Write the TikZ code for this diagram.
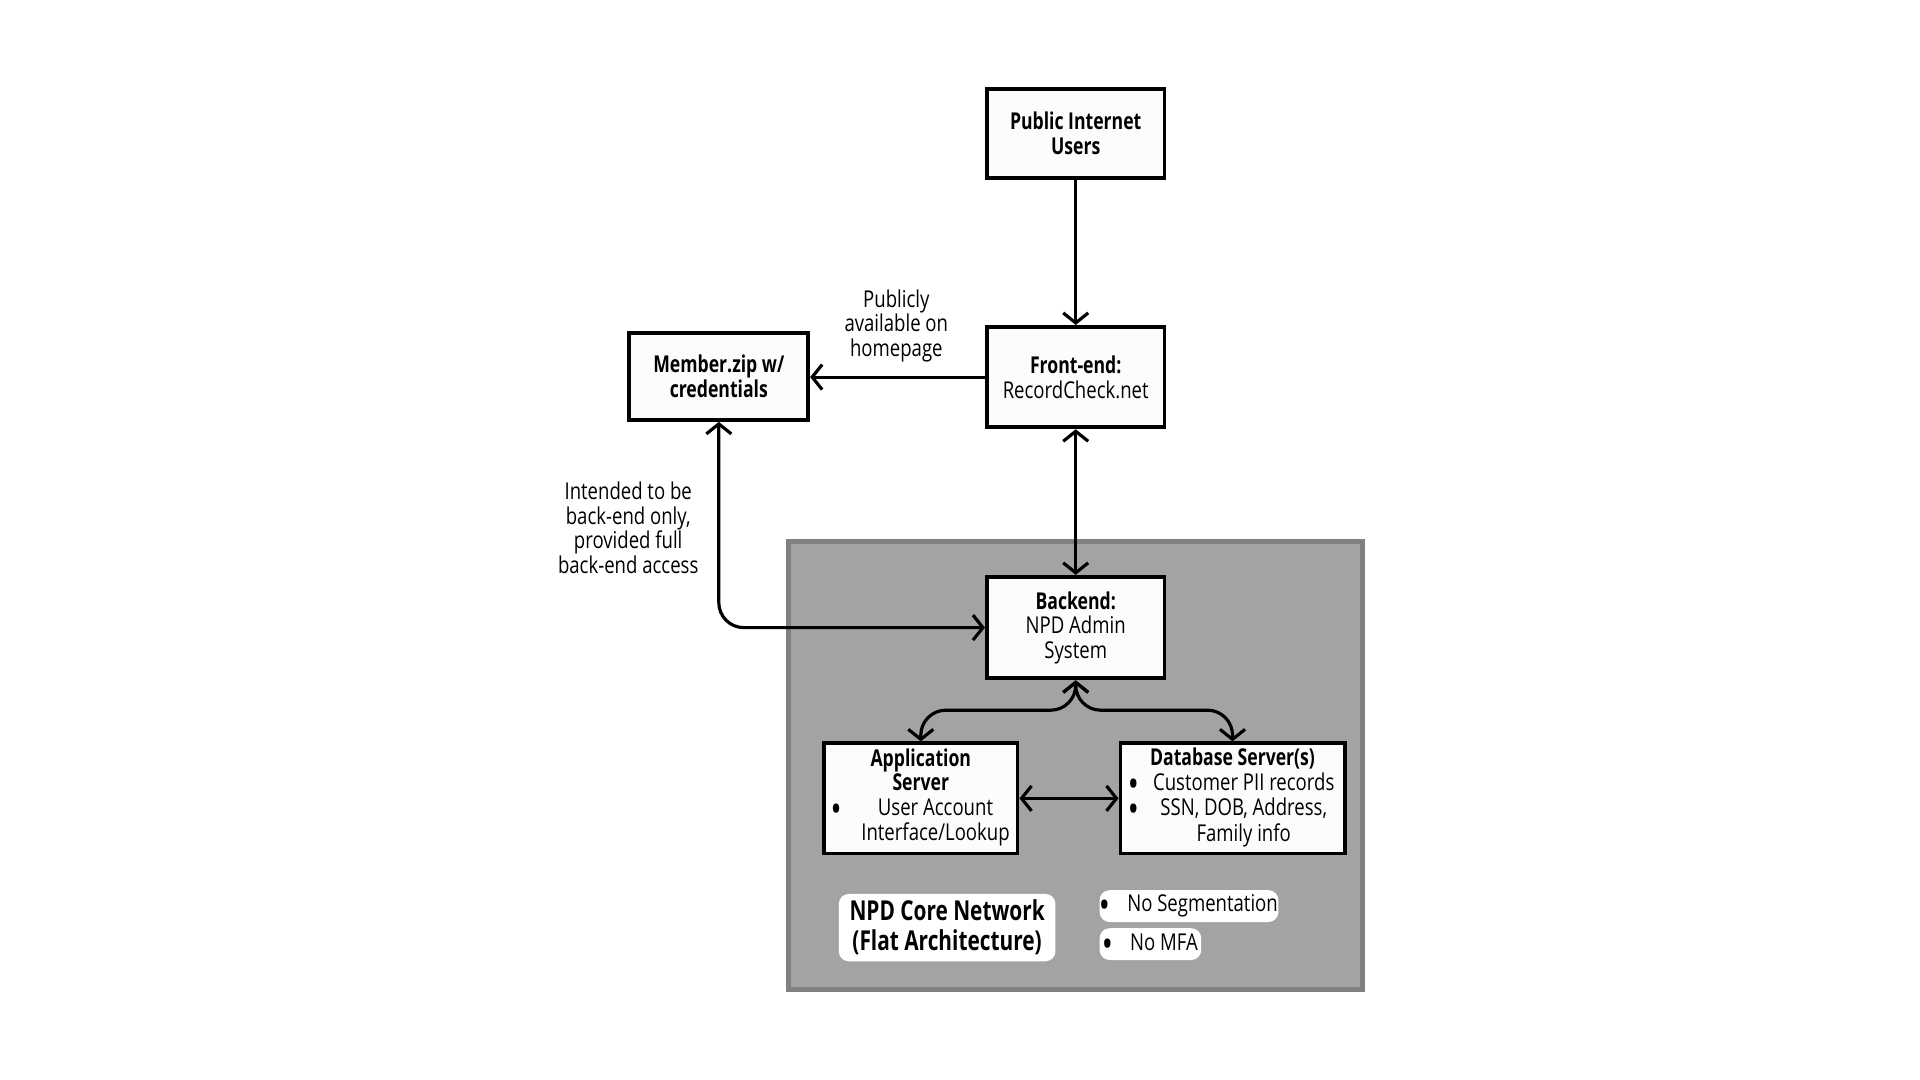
\documentclass[tikz,border=0pt]{standalone}
\usepackage{fontspec}
\setmainfont{Open Sans}[FakeStretch=0.8,BoldFeatures={FakeStretch=0.76}]
\usepackage{tikz}
\usetikzlibrary{positioning,
				arrows.meta}
\definecolor{netgray}{HTML}{A3A3A3}
\definecolor{netedge}{HTML}{808080}
\definecolor{boxfill}{HTML}{FCFCFA}
\newcommand{\blt}{\raisebox{-1.1pt}{\fontsize{8.5}{7}\selectfont\bfseries\textbullet}}

\begin{document}
\begin{tikzpicture}[line width=0.9pt,
  font=\fontsize{6.6}{7}\selectfont,
  sysbox/.style={rectangle,draw,line width=1.1pt,fill=boxfill,align=center,inner sep=0pt},
  notebox/.style={rectangle,fill=white,rounded corners=0.1cm,inner sep=0pt},
  tip/.style={-{Straight Barb[length=1mm,width=2.5mm]}},
  tips/.style={{Straight Barb[length=1mm,width=2.5mm]}-{Straight Barb[length=1mm,width=2.5mm]}}]
  \useasboundingbox[fill=white] (0,0) rectangle (19.2,-10.8);
  % core network area
  \draw[netedge,fill=netgray,line width=1.4pt] (7.886,-5.412) rectangle (13.629,-9.894);
  \node[sysbox,minimum width=1.776cm,minimum height=0.882cm] (users) at (10.757,-1.335) {\textbf{Public Internet}\\\textbf{Users}};
  \node[sysbox,minimum width=1.776cm,minimum height=1.004cm] (front) at (10.757,-3.771) {\textbf{Front-end:}\\RecordCheck.net};
  \node[sysbox,minimum width=1.788cm,minimum height=0.869cm] (member) at (7.188,-3.765) {\textbf{Member.zip w/}\\\textbf{credentials}};
  \node[sysbox,minimum width=1.776cm,minimum height=1.016cm] (backend) at (10.757,-6.276) {\textbf{Backend:}\\NPD Admin\\System};
  \node[sysbox,minimum width=1.935cm,minimum height=1.102cm] (app) at (9.208,-7.984) {%
    \begin{tabular}{@{}c@{\hspace{0.9em}}c@{}}
      \multicolumn{2}{c}{\textbf{Application}}\\
      \multicolumn{2}{c}{\textbf{Server}}\\
      \blt & User Account\\
      & Interface/Lookup
    \end{tabular}};
  \node[sysbox,minimum width=2.241cm,minimum height=1.102cm] (db) at (12.325,-7.984) {%
    \begin{tabular}{@{}c@{\hspace{0.6em}}c@{}}
      \multicolumn{2}{c}{\textbf{Database Server(s)}}\\
      \blt & Customer PII records\\
      \blt & SSN, DOB, Address,\\
      & Family info
    \end{tabular}};
  % labels inside the core network
  \node[notebox,minimum width=2.167cm,minimum height=0.673cm,align=center,
        font=\fontsize{7.8}{8.6}\selectfont\bfseries] (core) at (9.471,-9.276) {NPD Core Network\\(Flat Architecture)};
  \node[notebox,minimum width=1.788cm,minimum height=0.318cm] (noseg) at (11.890,-9.061) {\blt\hspace{0.8em}No Segmentation\hspace{0.2em}};
  \node[notebox,minimum width=1.016cm,minimum height=0.318cm] (nomfa) at (11.504,-9.441) {\blt\hspace{0.8em}No MFA\hspace{0.2em}};
  % edge texts
  \node[align=center] (publicly) at (8.963,-3.257) {Publicly\\available on\\homepage};
  \node[align=center] (intended) at (6.282,-5.278) {Intended to be\\back-end only,\\provided full\\back-end access};
  \coordinate (split) at (10.757,-7.102);
  % connectors
  \draw[tip](users)--(front);
  \draw[tip](front.west)--(front.west -| member.east);
  \draw[tips](front)--(backend);
  \draw[tips,rounded corners=0.25cm](member.south) |- (backend.west);
  \draw[tips,rounded corners=0.25cm](backend.south)--(split) -| (app.north);
  \draw[tips,rounded corners=0.25cm](backend.south)--(split) -| (db.north);
  \draw[tips](app)--(db);
\end{tikzpicture}
\end{document}
